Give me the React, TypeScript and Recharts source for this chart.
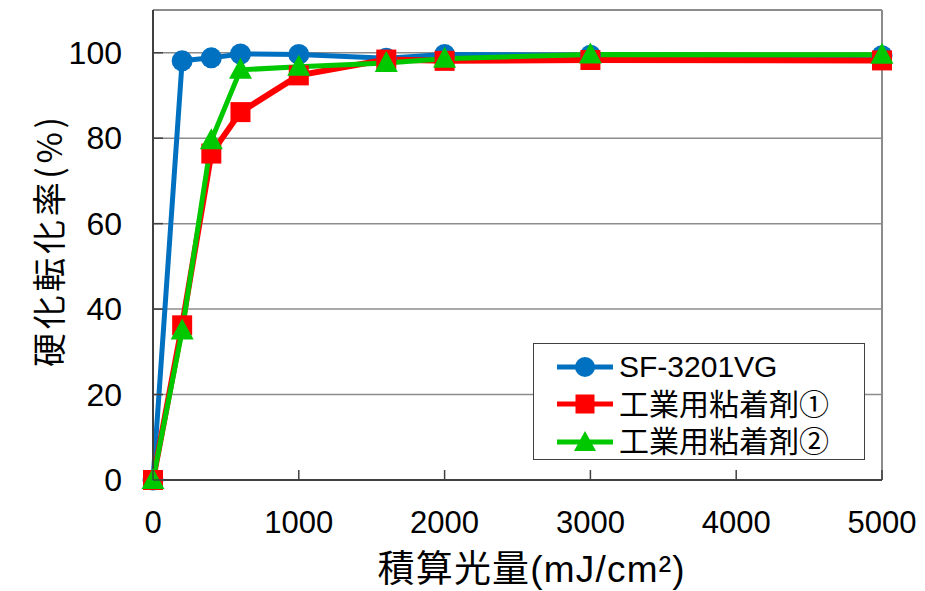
import React from "react";
import {
  LineChart,
  Line,
  XAxis,
  YAxis,
  CartesianGrid,
  ReferenceLine,
  Legend,
} from "recharts";

// 積算光量 (mJ/cm2)
const doses = [0, 200, 400, 600, 1000, 1600, 2000, 3000, 5000];
// 硬化転化率 (%)
const sf3201vg = [0, 98.1, 98.8, 99.7, 99.6, 98.7, 99.6, 99.4, 99.3];
const adhesive1 = [0, 36.2, 76.4, 86.1, 94.7, 98.4, 98.1, 98.3, 98.2];
const adhesive2 = [0, 35.0, 79.5, 96.0, 96.7, 97.6, 98.6, 99.6, 99.5];

const xTicks = [0, 1000, 2000, 3000, 4000, 5000];
const yTicks = [0, 20, 40, 60, 80, 100];

const seriesNames = ["SF-3201VG", "工業用粘着剤①", "工業用粘着剤②"];

const BLUE = "#0070C0";
const RED = "#FF0000";
const GREEN = "#00C800";
const GRID = "#8c8c8c";
const AXIS = "#404040";
const FONT = "'Liberation Sans', 'Noto Sans CJK JP', sans-serif";

const data = doses.map((d, i) => ({
  dose: d,
  a: sf3201vg[i],
  b: adhesive1[i],
  c: adhesive2[i],
}));

const CircleDot = (props: any) => {
  const { cx, cy, fill } = props;
  if (cx == null || cy == null) return null;
  return <circle cx={cx} cy={cy} r={10.5} fill={fill} />;
};

const SquareDot = (props: any) => {
  const { cx, cy, fill } = props;
  if (cx == null || cy == null) return null;
  return <rect x={cx - 10} y={cy - 10} width={20} height={20} fill={fill} />;
};

const TriangleDot = (props: any) => {
  const { cx, cy, fill } = props;
  if (cx == null || cy == null) return null;
  return (
    <polygon
      points={`${cx},${cy - 12} ${cx + 11.5},${cy + 9} ${cx - 11.5},${cy + 9}`}
      fill={fill}
    />
  );
};

const XTick = (props: any) => {
  const { x, y, payload } = props;
  return (
    <g>
      <line x1={x} y1={y} x2={x} y2={y - 10} stroke={AXIS} strokeWidth={1.5} />
      <text
        x={x}
        y={y + 42}
        textAnchor="middle"
        dominantBaseline="central"
        fontSize={31}
        fill="#000"
        fontFamily={FONT}
      >
        {payload.value}
      </text>
    </g>
  );
};

const YTick = (props: any) => {
  const { x, y, payload } = props;
  return (
    <g>
      <line x1={x} y1={y} x2={x + 10} y2={y} stroke={AXIS} strokeWidth={1.5} />
      <text
        x={x - 31}
        y={y}
        textAnchor="end"
        dominantBaseline="central"
        fontSize={32}
        fill="#000"
        fontFamily={FONT}
      >
        {payload.value}
      </text>
    </g>
  );
};

const legendIcon = (i: number, color: string) => {
  const cx = 28;
  const cy = 12;
  let marker;
  if (i === 0) marker = <circle cx={cx} cy={cy} r={10} fill={color} />;
  else if (i === 1)
    marker = <rect x={cx - 9.5} y={cy - 9.5} width={19} height={19} fill={color} />;
  else
    marker = (
      <polygon
        points={`${cx},${cy - 11} ${cx + 11},${cy + 9} ${cx - 11},${cy + 9}`}
        fill={color}
      />
    );
  return (
    <svg width={56} height={24} style={{ display: "block" }}>
      <line x1={0} y1={cy} x2={56} y2={cy} stroke={color} strokeWidth={5} strokeLinecap="round" />
      {marker}
    </svg>
  );
};

const LegendBox = (props: any) => {
  const { payload } = props;
  return (
    <div
      style={{
        width: 332,
        height: 117,
        boxSizing: "border-box",
        border: `1.5px solid ${AXIS}`,
        background: "#fff",
        paddingTop: 4,
        fontFamily: FONT,
      }}
    >
      {(payload || []).map((entry: any, i: number) => (
        <div
          key={entry.value}
          style={{
            display: "flex",
            alignItems: "center",
            height: 37.5,
            paddingLeft: 23,
          }}
        >
          {legendIcon(i, entry.color)}
          <span style={{ marginLeft: 6, fontSize: 30, color: "#000", lineHeight: "37px" }}>
            {entry.value}
          </span>
        </div>
      ))}
    </div>
  );
};

export default function App() {
  return (
    <div style={{ position: "absolute", left: 0, top: 0, width: 925, height: 591, background: "#fff" }}>
      <LineChart
        width={925}
        height={591}
        data={data}
        margin={{ top: 10, right: 43, left: 53, bottom: 51 }}
      >
        <CartesianGrid vertical={false} stroke={GRID} strokeWidth={1.5} />
        <ReferenceLine y={110} stroke={GRID} strokeWidth={2} />
        <ReferenceLine x={5000} stroke={GRID} strokeWidth={2} />
        <XAxis
          dataKey="dose"
          type="number"
          domain={[0, 5000]}
          ticks={xTicks}
          height={60}
          tickSize={0}
          tickMargin={0}
          tickLine={false}
          axisLine={{ stroke: AXIS, strokeWidth: 2 }}
          tick={<XTick />}
          interval={0}
          label={{
            content: () => (
              <text
                x={531}
                y={569}
                textAnchor="middle"
                dominantBaseline="central"
                fontSize={37}
                textLength={307}
                fill="#000"
                fontFamily={FONT}
              >
                積算光量(mJ/cm²)
              </text>
            ),
          }}
        />
        <YAxis
          type="number"
          domain={[0, 110]}
          ticks={yTicks}
          width={100}
          tickSize={0}
          tickMargin={0}
          tickLine={false}
          axisLine={{ stroke: AXIS, strokeWidth: 2 }}
          tick={<YTick />}
          interval={0}
          label={{
            content: () => (
              <text
                x={47}
                y={242}
                textAnchor="middle"
                dominantBaseline="central"
                fontSize={34}
                textLength={250}
                fill="#000"
                fontFamily="'Noto Sans CJK JP', sans-serif"
                transform="rotate(-90 47 242)"
              >
                硬化転化率(%)
              </text>
            ),
          }}
        />
        <Legend
          layout="vertical"
          align="center"
          verticalAlign="middle"
          content={<LegendBox />}
          wrapperStyle={{ left: 533, top: 343, width: 332, height: 117 }}
        />
        <Line
          dataKey="a"
          name={seriesNames[0]}
          stroke={BLUE}
          fill={BLUE}
          strokeWidth={5}
          dot={<CircleDot />}
          activeDot={false}
          isAnimationActive={false}
        />
        <Line
          dataKey="b"
          name={seriesNames[1]}
          stroke={RED}
          fill={RED}
          strokeWidth={6}
          dot={<SquareDot />}
          activeDot={false}
          isAnimationActive={false}
        />
        <Line
          dataKey="c"
          name={seriesNames[2]}
          stroke={GREEN}
          fill={GREEN}
          strokeWidth={5}
          dot={<TriangleDot />}
          activeDot={false}
          isAnimationActive={false}
        />
      </LineChart>
    </div>
  );
}
